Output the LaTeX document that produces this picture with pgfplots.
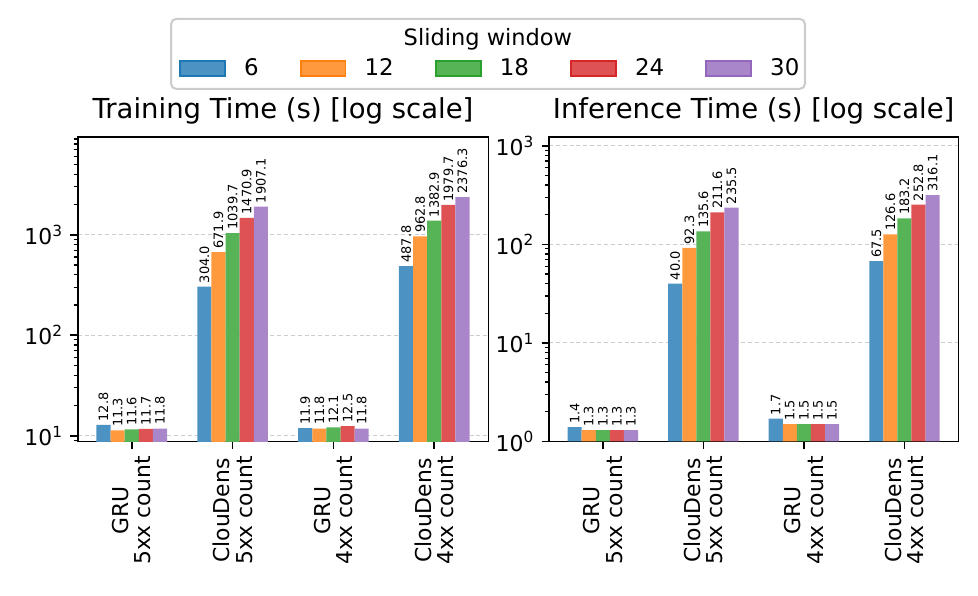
\documentclass[border=0pt]{standalone}
\usepackage{fontspec}
\setmainfont{DejaVu Sans}
\usepackage{pgfplots}
\usepackage{pgfplotstable}
\pgfplotsset{compat=1.18}
\pgfkeys{/pgf/number format/assume math mode=true}

\definecolor{c1}{HTML}{1F77B4}\definecolor{c1f}{HTML}{4C92C3}
\definecolor{c2}{HTML}{FF7F0E}\definecolor{c2f}{HTML}{FF993E}
\definecolor{c3}{HTML}{2CA02C}\definecolor{c3f}{HTML}{56B356}
\definecolor{c4}{HTML}{D62728}\definecolor{c4f}{HTML}{DE5253}
\definecolor{c5}{HTML}{9467BD}\definecolor{c5f}{HTML}{A985CA}

\pgfplotstableread{
x a b c d e
0 12.8 11.3 11.6 11.7 11.8
1 304.0 671.9 1039.7 1470.9 1907.1
2 11.9 11.8 12.1 12.5 11.8
3 487.8 962.8 1382.9 1979.7 2376.3
}\train

\pgfplotstableread{
x a b c d e
0 1.4 1.3 1.3 1.3 1.3
1 40.0 92.3 135.6 211.6 235.5
2 1.7 1.5 1.5 1.5 1.5
3 67.5 126.6 183.2 252.8 316.1
}\infer

\pgfplotsset{every axis/.append style={
    scale only axis, height=146.2bp,
    xmin=-0.536, xmax=3.536,
    xtick={0,1,2,3},
    xticklabels={{GRU\\5xx count},{ClouDens\\5xx count},{GRU\\4xx count},{ClouDens\\4xx count}},
    xticklabel style={rotate=90, anchor=east, align=center, font=\fontsize{10.5bp}{10.8bp}\selectfont, inner xsep=3.5bp},
    yticklabel style={font=\fontsize{10.5bp}{12bp}\selectfont},
    xtick pos=bottom, ytick pos=left,
    tick align=outside,
    major tick length=3.5bp, minor tick length=2bp,
    every tick/.style={black, line width=0.8bp},
    every minor tick/.style={black, line width=0.6bp},
    axis line style={line width=0.8bp},
    ymajorgrids,
    major grid style={line width=0.5bp, draw=black!20, dash pattern=on 1.9bp off 1.4bp},
    title style={at={(0.5,1)}, anchor=base, yshift=2.8bp, font=\fontsize{13.2bp}{15bp}\selectfont, inner sep=0pt},
  }}

\begin{document}
\begin{tikzpicture}
\useasboundingbox (0,0) rectangle (469.44bp,286.08bp);
\draw[line width=1bp, draw=black!20, fill=white, rounded corners=2.5bp] (82.1bp,243.4bp) rectangle (386.4bp,277.0bp);
\node[anchor=base, font=\fontsize{10.8bp}{12bp}\selectfont, inner sep=0pt] at (234.2bp,264.1bp) {Sliding window};

\begin{axis}[at={(37.3bp,74.2bp)}, anchor=south west, width=197.1bp,
  ymode=log,
  ybar, bar width=0.14,
  ymin=8.78, ymax=9440,
  ytick={10,100,1000},
  yticklabels={10\textsuperscript{1},10\textsuperscript{2},10\textsuperscript{3}},
  minor ytick={9,20,30,40,50,60,70,80,90,200,300,400,500,600,700,800,900,2000,3000,4000,5000,6000,7000,8000,9000},
  title={Training Time (s) [log scale]},
  point meta=rawy,
  nodes near coords={\pgfmathprintnumber[fixed,fixed zerofill,precision=1,1000 sep={}]{\pgfplotspointmeta}},
  nodes near coords style={rotate=90, anchor=west, font=\fontsize{6.2bp}{7bp}\selectfont, inner sep=1.5bp, black},
  legend columns=5,
  legend cell align=left,
  legend style={draw=none, fill=none, inner sep=0pt, outer sep=0pt,
    at={(0.2474,1.2250)}, anchor=west,
    font=\fontsize{11bp}{13bp}\selectfont,
    /tikz/every odd column/.append style={column sep=6.8bp},
    /tikz/every even column/.append style={column sep=17.8bp}},
  legend image code/.code={\draw[#1, line width=0.8bp, draw opacity=1] (0bp,-3.6bp) rectangle (21.5bp,3.6bp);},
]
\addplot[fill=c1f, draw=c1, draw opacity=0, bar shift=-0.28] table[x=x,y=a]{\train};
\addplot[fill=c2f, draw=c2, draw opacity=0, bar shift=-0.14] table[x=x,y=b]{\train};
\addplot[fill=c3f, draw=c3, draw opacity=0, bar shift=0] table[x=x,y=c]{\train};
\addplot[fill=c4f, draw=c4, draw opacity=0, bar shift=0.14] table[x=x,y=d]{\train};
\addplot[fill=c5f, draw=c5, draw opacity=0, bar shift=0.28] table[x=x,y=e]{\train};
\legend{6,12,18,24,30}
\end{axis}

\begin{axis}[at={(263.5bp,74.2bp)}, anchor=south west, width=196.5bp,
  ymode=log,
  ybar, bar width=0.14,
  ymin=1, ymax=1234,
  ytick={1,10,100,1000},
  yticklabels={10\textsuperscript{0},10\textsuperscript{1},10\textsuperscript{2},10\textsuperscript{3}},
  minor ytick={2,3,4,5,6,7,8,9,20,30,40,50,60,70,80,90,200,300,400,500,600,700,800,900},
  title={Inference Time (s) [log scale]},
  point meta=rawy,
  nodes near coords={\pgfmathprintnumber[fixed,fixed zerofill,precision=1,1000 sep={}]{\pgfplotspointmeta}},
  nodes near coords style={rotate=90, anchor=west, font=\fontsize{6.2bp}{7bp}\selectfont, inner sep=1.5bp, black},
]
\addplot[fill=c1f, draw=none, bar shift=-0.28] table[x=x,y=a]{\infer};
\addplot[fill=c2f, draw=none, bar shift=-0.14] table[x=x,y=b]{\infer};
\addplot[fill=c3f, draw=none, bar shift=0] table[x=x,y=c]{\infer};
\addplot[fill=c4f, draw=none, bar shift=0.14] table[x=x,y=d]{\infer};
\addplot[fill=c5f, draw=none, bar shift=0.28] table[x=x,y=e]{\infer};
\end{axis}
\end{tikzpicture}
\end{document}
